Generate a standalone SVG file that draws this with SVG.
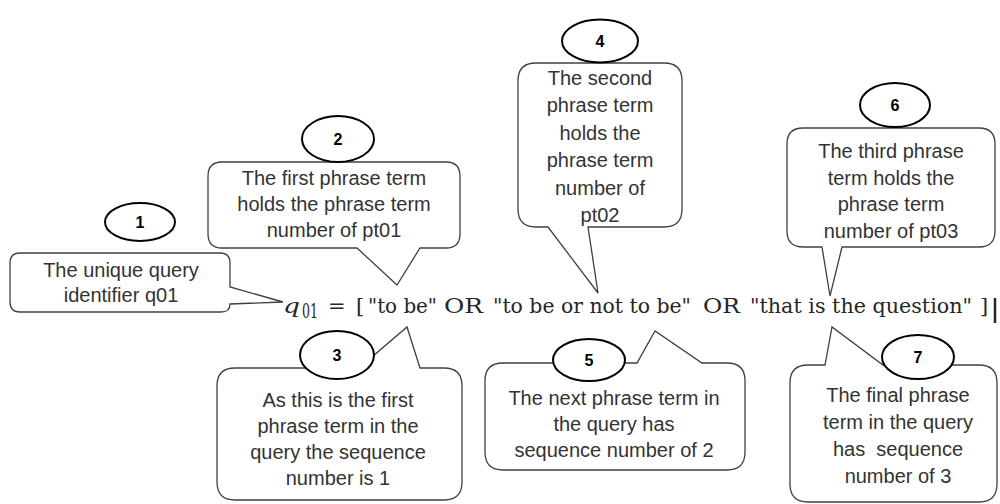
<svg xmlns="http://www.w3.org/2000/svg" width="1000" height="504" viewBox="0 0 1000 504">
  <style>
    .bubble { fill: #ffffff; stroke: #404040; stroke-width: 1.3; stroke-linejoin: miter; }
    .badge { fill: #ffffff; stroke: #000000; stroke-width: 2; }
    .num { font-family: "Liberation Sans", Arial, sans-serif; font-size: 16px; font-weight: bold; fill: #000; text-anchor: middle; }
    .txt { font-family: "Liberation Sans", Arial, sans-serif; font-size: 20px; fill: #333333; text-anchor: middle; }
    .eq { font-family: "DejaVu Serif", "Liberation Serif", serif; font-size: 21px; fill: #262626; }
  </style>
  <rect x="0" y="0" width="1000" height="504" fill="#ffffff"/>

  <g id="equation">
    <text class="eq" x="283" y="313" font-style="italic" font-size="27px" textLength="17" lengthAdjust="spacingAndGlyphs">q</text>
    <text class="eq" x="302" y="318" font-size="14px" textLength="16" lengthAdjust="spacingAndGlyphs">01</text>
    <text class="eq" x="328" y="313">=</text>
    <text class="eq" x="356" y="313">[</text>
    <text class="eq" x="368" y="313" textLength="69" lengthAdjust="spacingAndGlyphs">"to be"</text>
    <text class="eq" x="444" y="313" textLength="39" lengthAdjust="spacingAndGlyphs">OR</text>
    <text class="eq" x="493" y="313" textLength="198" lengthAdjust="spacingAndGlyphs">"to be or not to be"</text>
    <text class="eq" x="703" y="313" textLength="37" lengthAdjust="spacingAndGlyphs">OR</text>
    <text class="eq" x="750" y="313" textLength="222" lengthAdjust="spacingAndGlyphs">"that is the question"</text>
    <text class="eq" x="980" y="313">]</text>
    <line x1="995" y1="298" x2="995" y2="323" stroke="#262626" stroke-width="2.5"/>
  </g>

  <g id="connectors">
    <!-- pointers are part of the callout bubble outlines -->
  </g>

  <g id="callout1">
    <path class="bubble" d="M20,253 H220 Q230,253 230,263 V287 L283,302 L230,304 Q230,312 221,312 H20 Q10,312 10,302 V263 Q10,253 20,253 Z"/>
    <text class="txt" x="121" y="277">The unique query</text>
    <text class="txt" x="121" y="302">identifier q01</text>
    <ellipse class="badge" cx="140" cy="222" rx="35" ry="19"/>
    <text class="num" x="140" y="228">1</text>
  </g>

  <g id="callout2">
    <path class="bubble" d="M222,162 H446 Q460,162 460,176 V234 Q460,248 446,248 H420 L397,285 L357,248 H222 Q208,248 208,234 V176 Q208,162 222,162 Z"/>
    <ellipse class="badge" cx="338" cy="139" rx="36" ry="23"/>
    <text class="num" x="338" y="145">2</text>
    <text class="txt" x="334" y="185">The first phrase term</text>
    <text class="txt" x="334" y="211">holds the phrase term</text>
    <text class="txt" x="334" y="237">number of pt01</text>
  </g>

  <g id="callout4">
    <path class="bubble" d="M536,63 H664 Q682,63 682,81 V209 Q682,227 664,227 H588 L598,293 L548,227 H536 Q518,227 518,209 V81 Q518,63 536,63 Z"/>
    <ellipse class="badge" cx="600" cy="41" rx="38" ry="21.5"/>
    <text class="num" x="600" y="47">4</text>
    <text class="txt" x="600" y="85">The second</text>
    <text class="txt" x="600" y="112">phrase term</text>
    <text class="txt" x="600" y="140">holds the</text>
    <text class="txt" x="600" y="167">phrase term</text>
    <text class="txt" x="600" y="195">number of</text>
    <text class="txt" x="600" y="222">pt02</text>
  </g>

  <g id="callout6">
    <path class="bubble" d="M803,128 H979 Q995,128 995,144 V231 Q995,247 979,247 H842 L830,296 L822,247 H803 Q787,247 787,231 V144 Q787,128 803,128 Z"/>
    <ellipse class="badge" cx="895" cy="105" rx="35" ry="22"/>
    <text class="num" x="895" y="111">6</text>
    <text class="txt" x="891" y="158">The third phrase</text>
    <text class="txt" x="891" y="185">term holds the</text>
    <text class="txt" x="891" y="211">phrase term</text>
    <text class="txt" x="891" y="238">number of pt03</text>
  </g>

  <g id="callout3">
    <path class="bubble" d="M235,368 H359 L407,327 L420,368 H444 Q462,368 462,386 V482 Q462,500 444,500 H235 Q217,500 217,482 V386 Q217,368 235,368 Z"/>
    <ellipse class="badge" cx="337" cy="355" rx="37" ry="24"/>
    <text class="num" x="337" y="361">3</text>
    <text class="txt" x="338" y="407">As this is the first</text>
    <text class="txt" x="338" y="433">phrase term in the</text>
    <text class="txt" x="338" y="459">query the sequence</text>
    <text class="txt" x="338" y="485">number is 1</text>
  </g>

  <g id="callout5">
    <path class="bubble" d="M503,363 H637 L655,331 L702,363 H727 Q745,363 745,381 V452 Q745,470 727,470 H503 Q485,470 485,452 V381 Q485,363 503,363 Z"/>
    <ellipse class="badge" cx="589" cy="360" rx="36" ry="21"/>
    <text class="num" x="589" y="366">5</text>
    <text class="txt" x="614" y="405">The next phrase term in</text>
    <text class="txt" x="614" y="431">the query has</text>
    <text class="txt" x="614" y="457">sequence number of 2</text>
  </g>

  <g id="callout7">
    <path class="bubble" d="M808,365 H825 L832,327 L883,365 H979 Q997,365 997,383 V484 Q997,502 979,502 H808 Q790,502 790,484 V383 Q790,365 808,365 Z"/>
    <ellipse class="badge" cx="918" cy="357" rx="36" ry="22"/>
    <text class="num" x="918" y="363">7</text>
    <text class="txt" x="898" y="402">The final phrase</text>
    <text class="txt" x="898" y="429">term in the query</text>
    <text class="txt" x="898" y="456" xml:space="preserve">has  sequence</text>
    <text class="txt" x="898" y="483">number of 3</text>
  </g>
</svg>
